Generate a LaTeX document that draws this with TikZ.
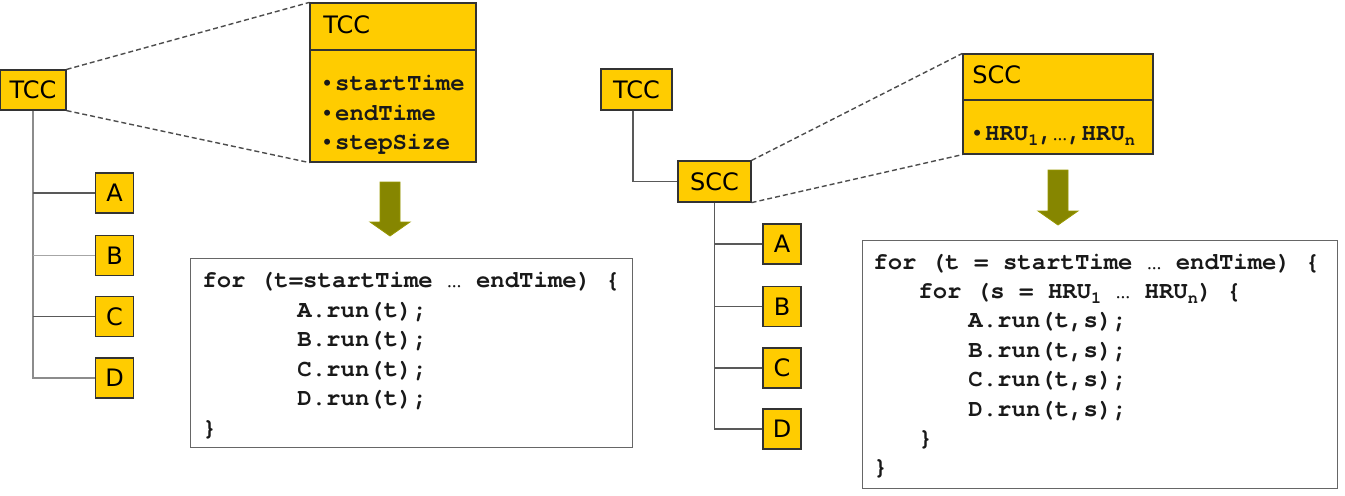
\documentclass[tikz,border=0pt]{standalone}
\usepackage{fontspec}
\setmainfont{DejaVu Sans}
\newfontfamily\codefont{TeX Gyre Cursor}
\newfontfamily\bulletfont{Liberation Sans}
\definecolor{compyellow}{RGB}{255,204,0}
\definecolor{arrowolive}{RGB}{134,134,0}
% bullet, subscript and ellipsis helpers for the monospaced texts
\newcommand\bul{{\bulletfont\mdseries\fontsize{11}{14}\selectfont •}}
\newcommand\lowsub[1]{\raisebox{-0.5ex}{\fontsize{8.5}{8}\selectfont #1}}
\newcommand\ellip{{\mdseries …}}
\begin{document}
\begin{tikzpicture}[x=0.5pt,y=-0.5pt,
  comp/.style={draw=black!80, line width=0.6pt, fill=compyellow, inner sep=0pt,
    font=\fontsize{12}{14}\selectfont},
  leaf/.style={comp, minimum width=19pt, minimum height=20pt},
  titletext/.style={inner sep=0pt, anchor=west, font=\fontsize{12}{14}\selectfont},
  link/.style={draw=black!65, line width=0.6pt},
  zoomline/.style={draw=black!70, line width=0.7pt, dash pattern=on 2.5pt off 1.5pt},
  codebox/.style={draw=black!60, line width=0.6pt, fill=white, inner sep=0pt},
  code/.style={font=\codefont\bfseries\fontsize{12}{14}\selectfont, inner sep=0pt,
    anchor=west, text height=7pt, text depth=0pt, text=black!90},
  blockarrow/.style={fill=arrowolive, draw=arrowolive!85!yellow, line width=0.4pt}]
\useasboundingbox (0,0) rectangle (1345,495);

% ---------------- time loop (left) ----------------
\node[comp, minimum width=33pt, minimum height=20pt] (ltcc) at (33,90) {TCC};
\node[comp, minimum width=83pt, minimum height=79.5pt] (ltccbig) at (393,82.5) {};
\coordinate (ldiv) at (0,50);
\draw[draw=black!80, line width=0.6pt] (ltccbig.west |- ldiv) -- (ltccbig.east |- ldiv);
\node[titletext] (ltcctitle) at (323,25) {TCC};
\node[code] (lb1) at (323,83) {\bul\,startTime};
\node[code] (lb2) at (323,113) {\bul\,endTime};
\node[code] (lb3) at (323,142) {\bul\,stepSize};
\draw[zoomline] (ltcc.north east) -- (ltccbig.north west);
\draw[zoomline] (ltcc.south east) -- (ltccbig.south west);

\node[leaf] (la) at (114.5,193) {A};
\node[leaf] (lbx) at (114.5,255.5) {B};
\node[leaf] (lc) at (114.5,316.5) {C};
\node[leaf] (ld) at (114.5,378) {D};
\draw[link, draw=black!45] (ltcc.south) |- (ld.west);
\draw[link] (ltcc.south |- la.west) -- (la.west);
\draw[link, draw=black!35] (ltcc.south |- lbx.west) -- (lbx.west);
\draw[link] (ltcc.south |- lc.west) -- (lc.west);

\fill[blockarrow] (380,182) -- (400,182) -- (400,222) -- (410,222) -- (390,236)
  -- (370,222) -- (380,222) -- cycle;

\node[codebox, anchor=north west, minimum width=221pt, minimum height=94.5pt] (lcode) at (190,258) {};
\node[code] (l1) at (202,280) {for (t=startTime \ellip{} endTime) \{};
\node[code] (l2) at (297,310) {A.run(t);};
\node[code] (l3) at (297,339) {B.run(t);};
\node[code] (l4) at (297,369) {C.run(t);};
\node[code] (l5) at (297,398) {D.run(t);};
\node[code] (l6) at (202,428) {\}};

% ---------------- time and space loops (right) ----------------
\node[comp, minimum width=35.5pt, minimum height=20.5pt] (rtcc) at (636.5,89.5) {TCC};
\node[comp, minimum width=36.5pt, minimum height=20.5pt] (rscc) at (714.5,181.5) {SCC};
\coordinate (rtrunk) at (633,0);
\draw[link] (rtcc.south -| rtrunk) |- (rscc.west);

\node[comp, minimum width=95pt, minimum height=50pt] (rsccbig) at (1058,104) {};
\coordinate (rdiv) at (0,100);
\draw[draw=black!80, line width=0.6pt] (rsccbig.west |- rdiv) -- (rsccbig.east |- rdiv);
\node[titletext] (rscctitle) at (972,75) {SCC};
\node[code] (rb1) at (973,133) {\bul\,HRU\lowsub{1},\ellip,HRU\lowsub{n}};
\draw[zoomline] (rscc.north east) -- (rsccbig.north west);
\draw[zoomline] (rscc.south east) -- (rsccbig.south west);

\node[leaf] (ra) at (782,244) {A};
\node[leaf] (rbx) at (782,306.5) {B};
\node[leaf] (rc) at (782,368) {C};
\node[leaf] (rd) at (782,429) {D};
\draw[link] (rscc.south) |- (rd.west);
\draw[link] (rscc.south |- ra.west) -- (ra.west);
\draw[link] (rscc.south |- rbx.west) -- (rbx.west);
\draw[link] (rscc.south |- rc.west) -- (rc.west);

\fill[blockarrow] (1048,170) -- (1068,170) -- (1068,211) -- (1078,211) -- (1058,225)
  -- (1038,211) -- (1048,211) -- cycle;

\node[codebox, anchor=north west, minimum width=237.5pt, minimum height=124pt] (rcode) at (862,240) {};
\node[code] (r1) at (873,262) {for (t = startTime \ellip{} endTime) \{};
\node[code] (r2) at (918,291.4) {for (s = HRU\lowsub{1} \ellip{} HRU\lowsub{n}) \{};
\node[code] (r3) at (968,320.8) {A.run(t,s);};
\node[code] (r4) at (968,350.2) {B.run(t,s);};
\node[code] (r5) at (968,379.6) {C.run(t,s);};
\node[code] (r6) at (968,409) {D.run(t,s);};
\node[code] (r7) at (918,438.4) {\}};
\node[code] (r8) at (873,467.8) {\}};
\end{tikzpicture}
\end{document}
